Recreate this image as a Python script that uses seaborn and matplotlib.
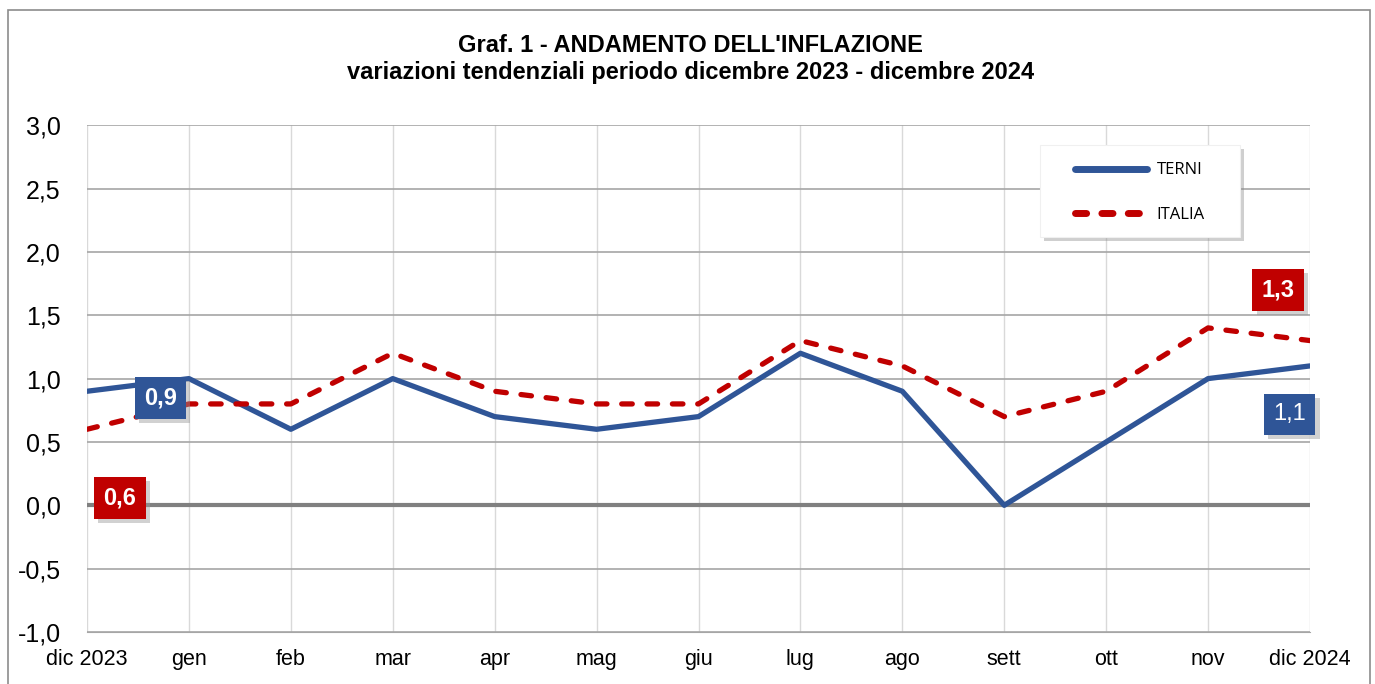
import pandas as pd
import numpy as np
import seaborn as sns
import matplotlib.pyplot as plt
from matplotlib.patches import Rectangle
from matplotlib.lines import Line2D
import matplotlib.patheffects as pe


mesi = ['dic 2023', 'gen', 'feb', 'mar', 'apr', 'mag', 'giu',
        'lug', 'ago', 'sett', 'ott', 'nov', 'dic 2024']
terni = [0.9, 1.0, 0.6, 1.0, 0.7, 0.6, 0.7, 1.2, 0.9, 0.0, 0.5, 1.0, 1.1]
italia = [0.6, 0.8, 0.8, 1.2, 0.9, 0.8, 0.8, 1.3, 1.1, 0.7, 0.9, 1.4, 1.3]
y_ticks = [-1.0, -0.5, 0.0, 0.5, 1.0, 1.5, 2.0, 2.5, 3.0]

blu = '#2F5597'
rosso = '#C00000'
trattini = (2.0, 2.8)

df = pd.DataFrame({'pos': list(range(len(mesi))) * 2,
                   'valore': terni + italia,
                   'serie': ['TERNI'] * len(mesi) + ['ITALIA'] * len(mesi)})

sns.set_style('white')
plt.rcParams['font.family'] = ['Liberation Sans', 'DejaVu Sans']
plt.rcParams['text.color'] = 'black'
plt.rcParams['xtick.color'] = 'black'
plt.rcParams['ytick.color'] = 'black'

fig = plt.figure(figsize=(13.75, 6.84), dpi=100)
ax = fig.add_axes([0.0633, 0.076, 0.8894, 0.741])

# griglia
for i in range(len(mesi)):
    ax.axvline(i, color='#d9d9d9', lw=1, zorder=0)
for v in y_ticks:
    ax.axhline(v, color='#a6a6a6', lw=1.2, zorder=0)
ax.axhline(0, color='#808080', lw=3, zorder=1)

sns.lineplot(data=df, x='pos', y='valore', hue='serie', style='serie',
             palette={'TERNI': blu, 'ITALIA': rosso},
             dashes={'TERNI': '', 'ITALIA': trattini},
             linewidth=3.8, ax=ax, zorder=3, legend=False)
for line in ax.lines[-2:]:
    line.set_solid_capstyle('round')
    line.set_dash_capstyle('round')

ax.set_xlim(0, len(mesi) - 1)
ax.set_ylim(-1, 3)
ax.set_xticks(range(len(mesi)))
ax.set_xticklabels(mesi, fontsize=15.5)
ax.set_yticks(y_ticks)
ax.set_yticklabels([f'{v:.1f}'.replace('.', ',') for v in y_ticks], fontsize=18)
ax.tick_params(axis='y', pad=19, length=0)
ax.tick_params(axis='x', pad=12, length=0)
for s in ['top', 'right', 'left']:
    ax.spines[s].set_visible(False)
ax.spines['bottom'].set_color('#a6a6a6')
ax.set_xlabel('')
ax.set_ylabel('')


def etichetta(x, y, val, col, bold=True):
    t = ax.text(x, y, f'{val:.1f}'.replace('.', ','), color='white',
                fontsize=17, fontweight='bold' if bold else 'normal',
                ha='center', va='center', zorder=5,
                bbox=dict(boxstyle='square,pad=0.4', fc=col, ec='none'))
    t.get_bbox_patch().set_path_effects(
        [pe.SimplePatchShadow(offset=(3, -3), shadow_rgbFace='#999999', alpha=0.45),
         pe.Normal()])


etichetta(0.72, 0.85, terni[0], blu)
etichetta(0.32, 0.06, italia[0], rosso)
etichetta(11.69, 1.70, italia[-1], rosso)
etichetta(11.80, 0.72, terni[-1], blu, bold=False)

# riquadro legenda
box = Rectangle((0.7792, 0.779), 0.1636, 0.1816, transform=ax.transAxes,
                fc='white', ec='#f0f0f0', lw=0.8, zorder=6)
box.set_path_effects([pe.SimplePatchShadow(offset=(3, -3), shadow_rgbFace='#888888',
                                           alpha=0.4), pe.Normal()])
ax.add_patch(box)

handles = [Line2D([], [], color=blu, lw=5, solid_capstyle='round'),
           Line2D([], [], color=rosso, lw=5, dashes=(1.6, 2.2),
                  dash_capstyle='round')]
leg = ax.legend(handles, ['TERNI', 'ITALIA'], loc='center left',
                bbox_to_anchor=(0.8079, 0.867), frameon=False,
                handlelength=4.3, labelspacing=1.7, borderpad=0,
                handletextpad=0.6, borderaxespad=0,
                prop={'family': 'Open Sans', 'size': 12})
leg.set_zorder(7)

fig.text(0.502, 0.934, "Graf. 1 - ANDAMENTO DELL'INFLAZIONE",
         ha='center', va='center', fontsize=17, fontweight='bold')
fig.text(0.502, 0.894, 'variazioni tendenziali periodo dicembre 2023 - dicembre 2024',
         ha='center', va='center', fontsize=17, fontweight='bold')

fig.patches.append(Rectangle((0.0058, -0.02), 0.9906, 1.005,
                             transform=fig.transFigure, fill=False,
                             ec='#8c8c8c', lw=1.2))

fig.savefig('out.png', dpi=100)
